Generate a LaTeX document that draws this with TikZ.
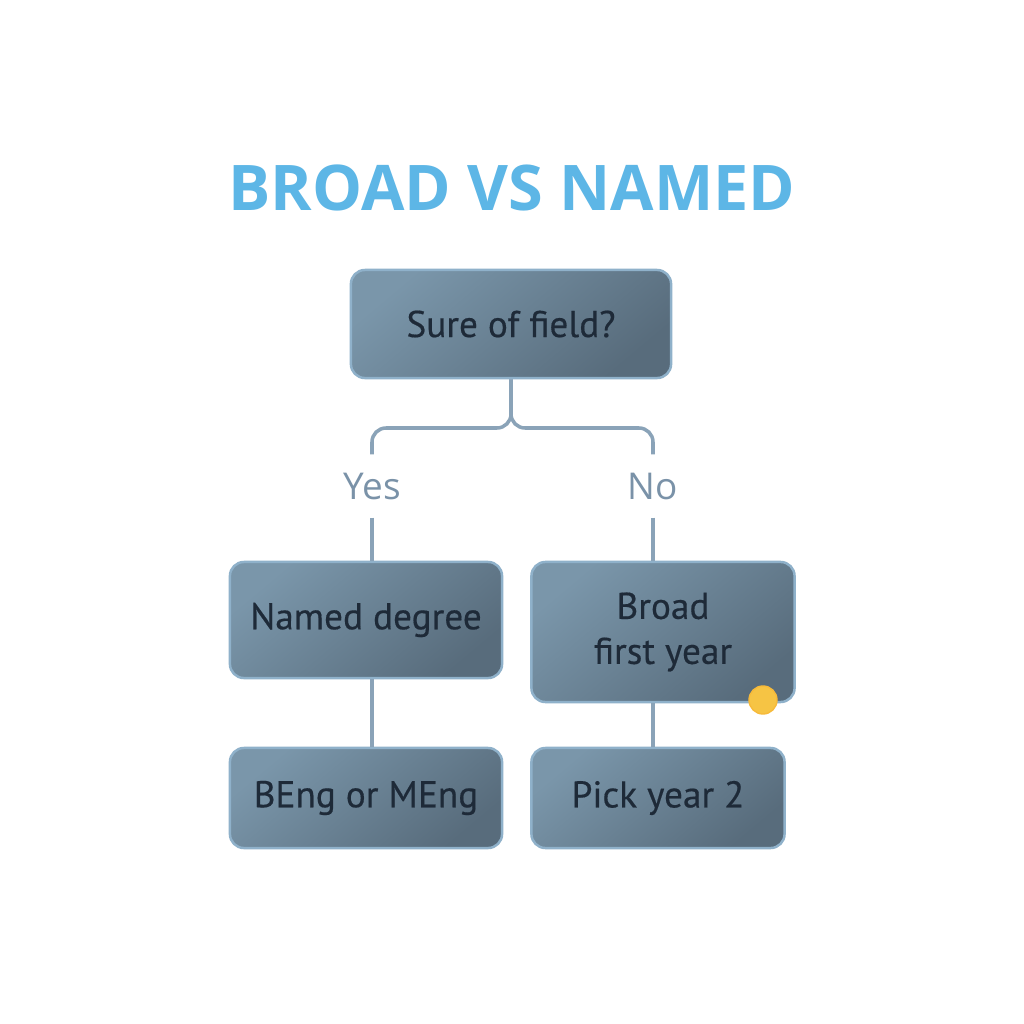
\documentclass[tikz,border=0pt]{standalone}
\usepackage{fontspec}
\setmainfont{Open Sans}
\newfontfamily\boxfont[FakeBold=0.4]{PT Sans}
\usetikzlibrary{positioning}
\definecolor{titleblue}{HTML}{5DB6E6}
\definecolor{boxlight}{HTML}{7A96AA}
\definecolor{boxdark}{HTML}{586C7C}
\definecolor{boxedge}{HTML}{8FB1CA}
\definecolor{boxtext}{HTML}{1E2A38}
\definecolor{linkcol}{HTML}{8AA3B8}
\definecolor{labelcol}{HTML}{7A92A8}
\definecolor{dotyellow}{HTML}{F6C444}
\tikzset{
  stepbox/.style={draw=boxedge, line width=0.7pt, rounded corners=0.14cm,
    left color=boxlight, right color=boxdark, shading angle=40,
    text=boxtext, font=\boxfont\fontsize{10.6}{12.8}\selectfont, align=center,
    inner sep=0pt},
  link/.style={draw=linkcol, line width=1pt},
  answer/.style={text=labelcol, font=\fontsize{10.5}{12}\selectfont,
    minimum height=0.62cm, inner sep=0pt},
}
\begin{document}
\begin{tikzpicture}[x=0.01cm, y=-0.01cm]
\fill[white] (0,0) rectangle (1024,1024);
% title
\node[text=titleblue, font=\fontsize{17.9}{21}\selectfont\bfseries] (title) at (512,188) {BROAD VS NAMED};
% boxes
\node[stepbox, minimum width=3.20cm, minimum height=1.08cm] (sure) at (511,324) {Sure of field?};
\node[answer] (yes) at (372,486) {Yes};
\node[answer] (no) at (653,486) {No};
\node[stepbox, minimum width=2.72cm, minimum height=1.16cm] (named) at (366,620) {Named degree};
\node[stepbox, minimum width=2.63cm, minimum height=1.40cm] (broad) at (663,632) {Broad\\first year};
\node[stepbox, minimum width=2.72cm, minimum height=1.00cm] (beng) at (366,798) {BEng or MEng};
\node[stepbox, minimum width=2.53cm, minimum height=1.00cm] (pick) at (658,798) {Pick year 2};
\node[circle, fill=dotyellow, draw=dotyellow!85!orange, line width=0.4pt, minimum size=0.28cm, inner sep=0pt] (flag) at (763,700) {};
% connectors
\draw[link, rounded corners=0.14cm] (sure.south) -- (sure.south |- 0,428) -| (yes.north);
\draw[link, rounded corners=0.14cm] (sure.south) -- (sure.south |- 0,428) -| (no.north);
\draw[link] (yes.south) -- (yes.south |- named.north);
\draw[link] (no.south) -- (no.south |- broad.north);
\draw[link] (named.south -| yes.south) -- (yes.south |- beng.north);
\draw[link] (broad.south -| no.south) -- (no.south |- pick.north);
\end{tikzpicture}
\end{document}
